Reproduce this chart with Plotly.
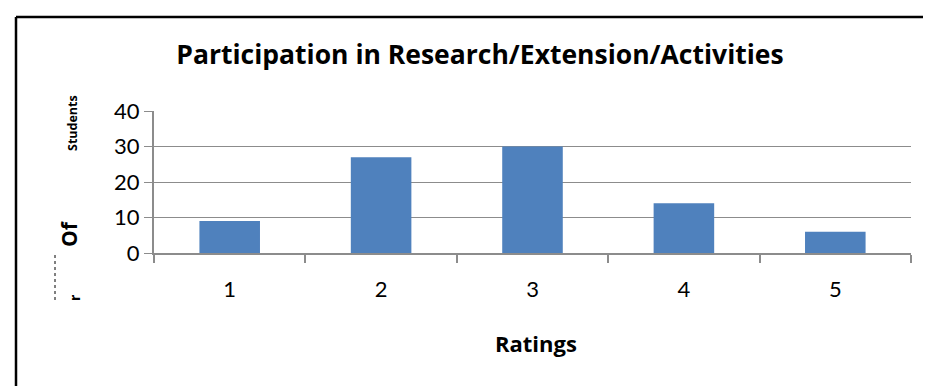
import plotly.graph_objects as go

categories = ["1", "2", "3", "4", "5"]
students = [9, 27, 30, 14, 6]
y_ticks = [0, 10, 20, 30, 40]

title_text = "Participation in Research/Extension/Activities"
x_title = "Ratings"

FONT = "Lato"
BOLD_FONT = "Open Sans"
GRID = "#8c8c8c"

# plot area in pixels
L, R, T, B = 146, 903, 103, 245
W, H = R - L, B - T

def px(x):
    return (x - L) / W

def py(y):
    return (B - y) / H

fig = go.Figure(go.Bar(x=categories, y=students, marker_color="#4F81BD",
                       marker_line_width=0))

fig.update_layout(
    width=931, height=386,
    margin=dict(l=L, r=931 - R, t=T, b=386 - B),
    paper_bgcolor="white", plot_bgcolor="white",
    bargap=0.6,
    showlegend=False,
    title=dict(text="<b>" + title_text + "</b>", x=472 / 931, y=1 - 47 / 386,
               xanchor="center", yanchor="middle",
               font=dict(family=BOLD_FONT, size=26.5, color="black")),
    font=dict(family=FONT, color="black"),
)

fig.update_xaxes(
    type="category", tickson="boundaries", ticks="outside", ticklen=8,
    tickwidth=2, tickcolor=GRID, showline=True, linecolor=GRID, linewidth=2,
    showgrid=False, tickfont=dict(family=FONT, size=22, color="black"),
    ticklabelstandoff=16,
)
fig.update_yaxes(
    range=[0, 40], tickvals=y_ticks, ticks="outside", ticklen=8,
    tickwidth=1, tickcolor=GRID, showline=True, linecolor=GRID, linewidth=2,
    showgrid=True, gridcolor=GRID, gridwidth=1, zeroline=False,
    tickfont=dict(family=FONT, size=22, color="black"),
)

def note(text, x, y, size, angle=0, family=BOLD_FONT):
    fig.add_annotation(text=text, xref="paper", yref="paper",
                       x=px(x), y=py(y), xanchor="center", yanchor="middle",
                       showarrow=False, textangle=angle,
                       font=dict(family=family, size=size, color="black"))

# x axis title
note("<b>" + x_title + "</b>", 528, 335, 22)

# clipped y-axis title pieces
note("<b>Students</b>", 64, 115, 12.5, -90)
note("<b>Of</b>", 61, 226, 21, -90)
note("<b>r</b>", 66, 290, 14, -90)
fig.add_shape(type="line", xref="paper", yref="paper",
              x0=px(47), x1=px(47), y0=py(247), y1=py(292),
              line=dict(color="black", width=1, dash="dot"))

# chart border (top and left visible)
fig.add_shape(type="line", xref="paper", yref="paper",
              x0=px(8), x1=px(935), y0=py(9), y1=py(9),
              line=dict(color="black", width=2.5))
fig.add_shape(type="line", xref="paper", yref="paper",
              x0=px(8), x1=px(8), y0=py(9), y1=py(390),
              line=dict(color="black", width=2.5))

fig.write_html("out.html")
